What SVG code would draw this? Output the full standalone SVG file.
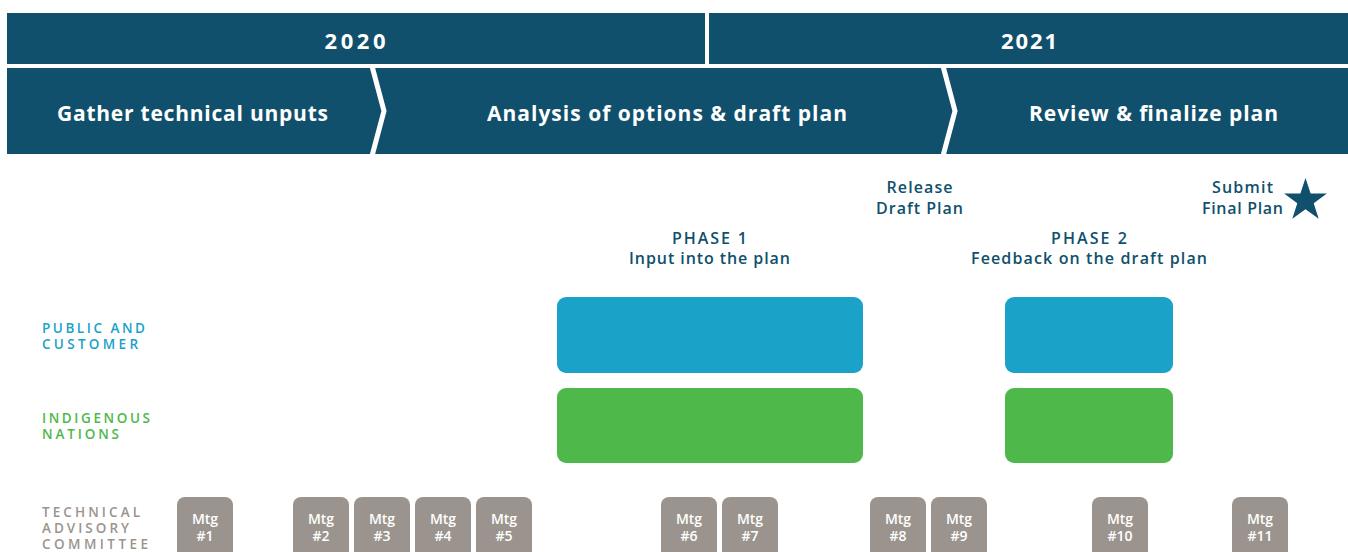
<svg xmlns="http://www.w3.org/2000/svg" width="1348" height="552" viewBox="0 0 1348 552">
<style>
.bar{fill:#10506c}
.hdr{font-family:"Open Sans","Liberation Sans",sans-serif;font-weight:700;fill:#ffffff;text-anchor:middle}
.sep{fill:none;stroke:#ffffff;stroke-width:5;stroke-linejoin:miter}
.note{font-family:"Open Sans","Liberation Sans",sans-serif;font-weight:600;font-size:16px;fill:#10506c;text-anchor:middle}
.lbl{font-family:"Open Sans","Liberation Sans",sans-serif;font-weight:600;font-size:13.5px}
.pub{fill:#1aa2c9}
.ind{fill:#4fb84a}
.tac{fill:#9b948e}
.mtg rect{fill:#9b948e}
.mtg text{font-family:"Open Sans","Liberation Sans",sans-serif;font-weight:600;font-size:14px;fill:#ffffff;text-anchor:middle}
</style>
<rect width="1348" height="552" fill="#ffffff"/>
<g id="year-2020"><rect class="bar" x="7" y="13" width="698" height="51"/><text class="hdr" x="355" y="49" font-size="22" textLength="61">2020</text></g>
<g id="year-2021"><rect class="bar" x="709" y="13" width="639" height="51"/><text class="hdr" x="1029" y="49" font-size="22" textLength="56">2021</text></g>
<g id="stage-bar"><rect class="bar" x="7" y="68" width="1341" height="86"/></g>
<g id="stage-1"><text class="hdr" x="192.5" y="121" font-size="21" textLength="271">Gather technical unputs</text></g>
<g id="stage-2"><text class="hdr" x="667" y="121" font-size="21" textLength="360">Analysis of options &amp; draft plan</text></g>
<g id="stage-3"><text class="hdr" x="1153.5" y="121" font-size="21" textLength="249">Review &amp; finalize plan</text></g>
<g id="connectors">
<polyline class="sep" points="372,66 384,111 372,156"/>
<polyline class="sep" points="943,66 955,111 943,156"/>
</g>
<g id="release"><text class="note" x="919.5" y="193" textLength="66">Release</text><text class="note" x="919.5" y="214" textLength="87">Draft Plan</text></g>
<g id="submit"><text class="note" x="1242.5" y="193" textLength="61">Submit</text><text class="note" x="1242.5" y="214" textLength="81">Final Plan</text>
<polygon fill="#10506c" points="1305.5,178 1310.6,193.6 1326.9,193.6 1313.7,203.3 1318.7,218.8 1305.5,209.2 1292.3,218.8 1297.3,203.3 1284.1,193.6 1300.4,193.6"/></g>
<g id="phase-1"><text class="note" x="709.5" y="244" textLength="75">PHASE 1</text><text class="note" x="709.5" y="264" textLength="161">Input into the plan</text></g>
<g id="phase-2"><text class="note" x="1089" y="244" textLength="76">PHASE 2</text><text class="note" x="1089" y="264" textLength="236">Feedback on the draft plan</text></g>
<g id="label-public"><text class="lbl pub" x="42" y="333" textLength="103">PUBLIC AND</text><text class="lbl pub" x="42" y="349" textLength="96">CUSTOMER</text></g>
<g id="label-indigenous"><text class="lbl ind" x="42" y="423" textLength="108">INDIGENOUS</text><text class="lbl ind" x="42" y="439" textLength="77">NATIONS</text></g>
<g id="label-tac"><text class="lbl tac" x="42" y="517" textLength="98">TECHNICAL</text><text class="lbl tac" x="42" y="533" textLength="87">ADVISORY</text><text class="lbl tac" x="42" y="549" textLength="106">COMMITTEE</text></g>
<g id="public-phase1"><rect class="pub" x="557" y="297" width="306" height="76" rx="9"/></g>
<g id="public-phase2"><rect class="pub" x="1005" y="297" width="168" height="76" rx="9"/></g>
<g id="indigenous-phase1"><rect class="ind" x="557" y="388" width="306" height="75" rx="9"/></g>
<g id="indigenous-phase2"><rect class="ind" x="1005" y="388" width="168" height="75" rx="9"/></g>
<g id="mtg-1" class="mtg"><rect x="177" y="497" width="56" height="70" rx="8"/><text x="205" y="524">Mtg</text><text x="205" y="541">#1</text></g>
<g id="mtg-2" class="mtg"><rect x="293" y="497" width="56" height="70" rx="8"/><text x="321" y="524">Mtg</text><text x="321" y="541">#2</text></g>
<g id="mtg-3" class="mtg"><rect x="354" y="497" width="56" height="70" rx="8"/><text x="382" y="524">Mtg</text><text x="382" y="541">#3</text></g>
<g id="mtg-4" class="mtg"><rect x="415" y="497" width="56" height="70" rx="8"/><text x="443" y="524">Mtg</text><text x="443" y="541">#4</text></g>
<g id="mtg-5" class="mtg"><rect x="476" y="497" width="56" height="70" rx="8"/><text x="504" y="524">Mtg</text><text x="504" y="541">#5</text></g>
<g id="mtg-6" class="mtg"><rect x="661" y="497" width="56" height="70" rx="8"/><text x="689" y="524">Mtg</text><text x="689" y="541">#6</text></g>
<g id="mtg-7" class="mtg"><rect x="722" y="497" width="56" height="70" rx="8"/><text x="750" y="524">Mtg</text><text x="750" y="541">#7</text></g>
<g id="mtg-8" class="mtg"><rect x="870" y="497" width="56" height="70" rx="8"/><text x="898" y="524">Mtg</text><text x="898" y="541">#8</text></g>
<g id="mtg-9" class="mtg"><rect x="931" y="497" width="56" height="70" rx="8"/><text x="959" y="524">Mtg</text><text x="959" y="541">#9</text></g>
<g id="mtg-10" class="mtg"><rect x="1092" y="497" width="56" height="70" rx="8"/><text x="1120" y="524">Mtg</text><text x="1120" y="541">#10</text></g>
<g id="mtg-11" class="mtg"><rect x="1232" y="497" width="56" height="70" rx="8"/><text x="1260" y="524">Mtg</text><text x="1260" y="541">#11</text></g>
</svg>
